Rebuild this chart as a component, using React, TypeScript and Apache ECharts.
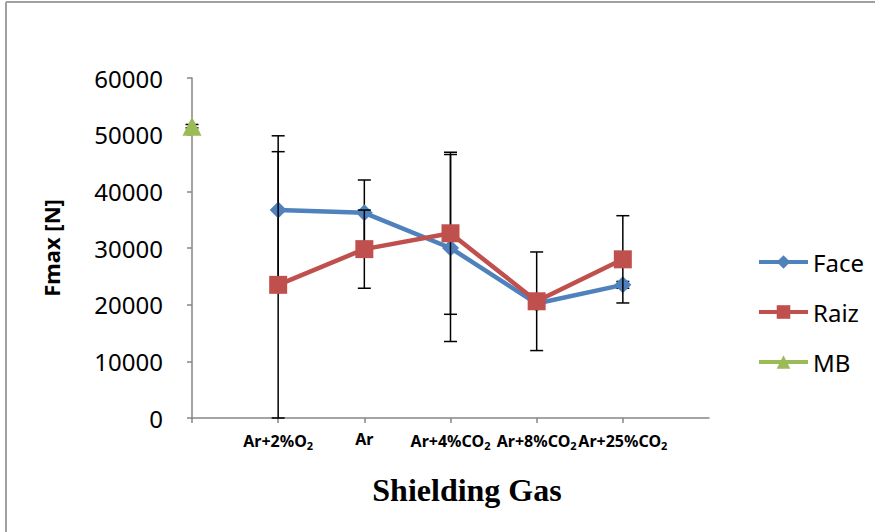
import React, { useEffect, useRef } from "react";
import * as echarts from "echarts";

const categories = ["", "Ar+2%O2", "Ar", "Ar+4%CO2", "Ar+8%CO2", "Ar+25%CO2", ""];
const face = [null, 36700, 36200, 30000, 20200, 23500, null];
const faceErr = [null, 13100, 5800, 16500, 800, 600, null];
const raiz = [null, 23500, 29800, 32600, 20600, 28000, null];
const raizErr = [null, 23500, 6900, 14300, 8700, 7700, null];
const mb = [51500, null, null, null, null, null, null];
const mbErr = [300, null, null, null, null, null, null];
const yTicks = { min: 0, max: 60000, interval: 10000 };

const errData = (vals: (number | null)[], errs: (number | null)[]) =>
  vals
    .map((v, i) => (v == null || errs[i] == null ? null : [i, v - (errs[i] as number), v + (errs[i] as number)]))
    .filter((d) => d != null);

const errRender = (params: any, api: any) => {
  const x = api.value(0);
  const lo = api.coord([x, api.value(1)]);
  const hi = api.coord([x, api.value(2)]);
  const hw = 6.5;
  const style = { stroke: "#000", lineWidth: 1.5 };
  return {
    type: "group",
    children: [
      { type: "line", shape: { x1: lo[0], y1: lo[1], x2: hi[0], y2: hi[1] }, style },
      { type: "line", shape: { x1: lo[0] - hw, y1: lo[1], x2: lo[0] + hw, y2: lo[1] }, style },
      { type: "line", shape: { x1: hi[0] - hw, y1: hi[1], x2: hi[0] + hw, y2: hi[1] }, style },
    ],
  };
};

export default function App() {
  const ref = useRef<HTMLDivElement>(null);
  useEffect(() => {
    document.body.style.margin = "0";
    const chart = echarts.init(ref.current!, null, { renderer: "svg" });
    const axisColor = "#868686";
    chart.setOption({
      animation: false,
      backgroundColor: "#fff",
      title: {
        text: "Shielding Gas",
        left: 462,
        top: 469,
        textAlign: "center",
        textStyle: { fontFamily: "Liberation Serif", fontWeight: "bold", fontSize: 32, color: "#000" },
      },
      legend: {
        orient: "vertical",
        left: 752,
        top: 245,
        itemWidth: 49,
        itemHeight: 17,
        itemGap: 26,
        lineStyle: { width: 4 },
        textStyle: { fontFamily: "Noto Sans", fontSize: 24, color: "#000", lineHeight: 24 },
        data: ["Face", "Raiz", "MB"],
      },
      grid: { left: 192, right: 166, top: 78, bottom: 114 },
      xAxis: {
        type: "category",
        data: categories,
        boundaryGap: false,
        axisLine: { lineStyle: { color: axisColor, width: 1.5 } },
        axisTick: {
          length: 5,
          lineStyle: { color: axisColor, width: 1.5 },
          interval: (i: number) => i < categories.length - 1,
        },
        axisLabel: {
          interval: 0,
          margin: 13,
          fontFamily: "Noto Sans",
          fontWeight: "bold",
          fontSize: 16,
          color: "#000",
          formatter: (v: string) => v.replace(/O2$/, "O{s|2}"),
          rich: {
            s: { fontFamily: "Noto Sans", fontWeight: "bold", fontSize: 11, color: "#000", verticalAlign: "bottom", padding: [9, 0, 0, 0] },
          },
        },
      },
      yAxis: {
        type: "value",
        min: yTicks.min,
        max: yTicks.max,
        interval: yTicks.interval,
        name: "Fmax [N]",
        nameLocation: "middle",
        nameRotate: 90,
        nameGap: 130,
        nameTextStyle: { fontFamily: "Noto Sans", fontWeight: "bold", fontSize: 22, color: "#000" },
        axisLine: { show: true, lineStyle: { color: axisColor, width: 1.5 } },
        axisTick: { show: true, length: 5, lineStyle: { color: axisColor, width: 1.5 } },
        splitLine: { show: false },
        axisLabel: {
          margin: 29,
          fontFamily: "Noto Sans",
          fontSize: 24,
          color: "#000",
          formatter: (v: number) => String(v),
        },
      },
      series: [
        {
          type: "custom",
          name: "faceErr",
          renderItem: errRender,
          data: errData(face, faceErr),
          encode: { x: 0, y: [1, 2] },
          z: 1,
          silent: true,
        },
        {
          type: "line",
          name: "Face",
          data: face,
          color: "#4F81BD",
          symbol: "diamond",
          symbolSize: 17,
          lineStyle: { width: 4.5, color: "#4F81BD" },
          itemStyle: { color: "#4F81BD" },
          z: 2,
        },
        {
          type: "custom",
          name: "raizErr",
          renderItem: errRender,
          data: errData(raiz, raizErr),
          encode: { x: 0, y: [1, 2] },
          z: 3,
          silent: true,
        },
        {
          type: "line",
          name: "Raiz",
          data: raiz,
          color: "#C0504D",
          symbol: "rect",
          symbolSize: 18,
          lineStyle: { width: 4.5, color: "#C0504D" },
          itemStyle: { color: "#C0504D" },
          z: 4,
        },
        {
          type: "custom",
          name: "mbErr",
          renderItem: errRender,
          data: errData(mb, mbErr),
          encode: { x: 0, y: [1, 2] },
          z: 5,
          silent: true,
        },
        {
          type: "line",
          name: "MB",
          data: mb,
          color: "#9BBB59",
          symbol: "triangle",
          symbolSize: 19,
          lineStyle: { width: 4.5, color: "#9BBB59" },
          itemStyle: { color: "#9BBB59" },
          z: 6,
        },
      ],
      graphic: [
        { type: "line", shape: { x1: 6, y1: 2, x2: 875, y2: 2 }, style: { stroke: "#A0A0A0", lineWidth: 2 } },
        { type: "line", shape: { x1: 6, y1: 2, x2: 6, y2: 532 }, style: { stroke: "#A0A0A0", lineWidth: 2 } },
      ],
    });
    return () => chart.dispose();
  }, []);
  return <div ref={ref} style={{ position: "fixed", left: 0, top: 0, width: 875, height: 532 }} />;
}
